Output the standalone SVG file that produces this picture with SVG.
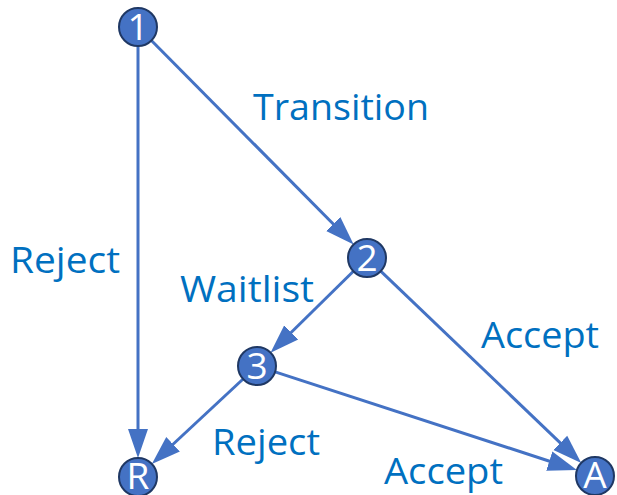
<svg xmlns="http://www.w3.org/2000/svg" width="617" height="495" viewBox="0 0 617 495">
  <style>
    .edge { stroke: #4472C4; stroke-width: 3; fill: none; marker-end: url(#arrow); }
    .node circle { fill: #4472C4; stroke: #1F3864; stroke-width: 2; }
    .node text { fill: #FFFFFF; font-family: "Open Sans", "Liberation Sans", sans-serif; font-size: 37px; text-anchor: middle; }
    .label { fill: #0070C0; font-family: "Open Sans", "Liberation Sans", sans-serif; font-size: 36px; }
  </style>
  <defs>
    <marker id="arrow" markerUnits="userSpaceOnUse" markerWidth="32" markerHeight="24" viewBox="0 -12 32 24" refX="18" refY="0" orient="auto">
      <path d="M0,-10 L29,0 L0,10 z" fill="#4472C4"/>
    </marker>
  </defs>

  <rect width="617" height="495" fill="#FFFFFF"/>

  <!-- transitions between states -->
  <g id="connectors">
    <line class="edge" x1="151.4" y1="40.5" x2="345.9" y2="236.7"/>
    <line class="edge" x1="138" y1="46" x2="138" y2="447"/>
    <line class="edge" x1="353.4" y1="271.3" x2="278.4" y2="345.0"/>
    <line class="edge" x1="380.7" y1="271.1" x2="573.3" y2="455.3"/>
    <line class="edge" x1="243.1" y1="379.0" x2="159.9" y2="456.5"/>
    <line class="edge" x1="275.1" y1="371.9" x2="566.4" y2="466.7"/>
  </g>

  <!-- edge labels -->
  <g id="labels">
    <text class="label" x="253" y="120" textLength="176" lengthAdjust="spacingAndGlyphs">Transition</text>
    <text class="label" x="10" y="273" textLength="110" lengthAdjust="spacingAndGlyphs">Reject</text>
    <text class="label" x="180" y="302" textLength="134" lengthAdjust="spacingAndGlyphs">Waitlist</text>
    <text class="label" x="481" y="348" textLength="118" lengthAdjust="spacingAndGlyphs">Accept</text>
    <text class="label" x="212" y="455" textLength="108" lengthAdjust="spacingAndGlyphs">Reject</text>
    <text class="label" x="384" y="484" textLength="119" lengthAdjust="spacingAndGlyphs">Accept</text>
  </g>

  <!-- states -->
  <g id="node-1" class="node">
    <circle cx="138" cy="27" r="19"/>
    <text x="138" y="40">1</text>
  </g>
  <g id="node-2" class="node">
    <circle cx="367" cy="258" r="19"/>
    <text x="367" y="271">2</text>
  </g>
  <g id="node-3" class="node">
    <circle cx="257" cy="366" r="19"/>
    <text x="257" y="379">3</text>
  </g>
  <g id="node-R" class="node">
    <circle cx="138" cy="477" r="19"/>
    <text x="138" y="489">R</text>
  </g>
  <g id="node-A" class="node">
    <circle cx="595" cy="476" r="19"/>
    <text x="595" y="488">A</text>
  </g>
</svg>
